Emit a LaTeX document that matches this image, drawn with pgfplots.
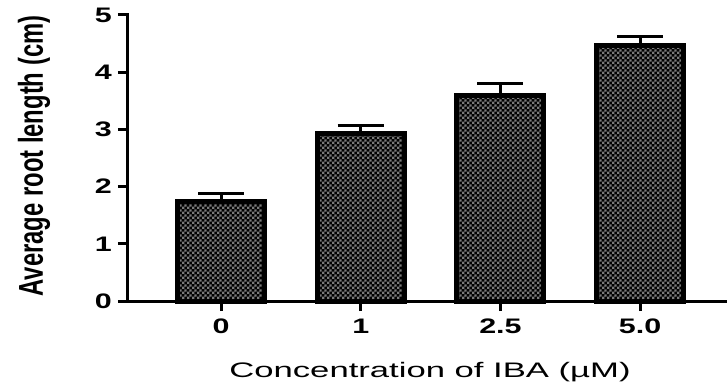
\documentclass[border=0pt]{standalone}
\usepackage{pgfplots}
\pgfplotsset{compat=1.18}
\usepackage{fontspec}
\setmainfont{Liberation Sans}
\usetikzlibrary{patterns}
\pgfdeclarepatternformonly{checker}{\pgfpointorigin}{\pgfpoint{4.8pt}{4.8pt}}{\pgfpoint{4.8pt}{4.8pt}}{%
  \pgfpathrectangle{\pgfpointorigin}{\pgfpoint{2.4pt}{2.4pt}}%
  \pgfpathrectangle{\pgfpoint{2.4pt}{2.4pt}}{\pgfpoint{2.4pt}{2.4pt}}%
  \pgfusepath{fill}}
\begin{document}
\begin{tikzpicture}
\begin{axis}[
  at={(0,0)}, anchor=south west,
  scale only axis,
  width=599pt, height=286pt,
  xmin=-0.666, xmax=3.622,
  ymin=0, ymax=5,
  axis x line=bottom, axis y line=left,
  axis line style={-, line width=3pt, line cap=rect},
  tick align=outside,
  major tick length=10pt,
  tick style={line width=3pt, black},
  xtick={0,1,2,3},
  xticklabels={\scalebox{1.45}[1]{0},\scalebox{1.45}[1]{1},\scalebox{1.45}[1]{2.5},\scalebox{1.45}[1]{5.0}},
  ytick={0,1,2,3,4,5},
  yticklabel={\scalebox{1.45}[1]{\pgfmathprintnumber{\tick}}},
  /pgf/number format/assume math mode=true,
  ticklabel style={font=\fontsize{21}{24}\selectfont\bfseries, inner sep=0pt},
  yticklabel style={anchor=east, xshift=-6pt},
  xticklabel style={anchor=base, yshift=-22pt},
  clip=false,
]
\addplot[ybar, bar width=87pt, draw=black, line width=5pt,
  pattern=checker, pattern color=black!52, preaction={fill=black},
  error bars/.cd, y dir=plus, y explicit,
  error mark=|,
  error bar style={line width=3pt, black},
  error mark options={line width=3pt, mark size=23pt, black}]
  coordinates {
  (0,1.74) +- (0,0.14)
  (1,2.93) +- (0,0.13)
  (2,3.59) +- (0,0.22)
  (3,4.46) +- (0,0.16)
  };
\end{axis}
\node[rotate=90, anchor=base, inner sep=0pt] at (-85pt,145pt)
  {\scalebox{1}[1.45]{\fontsize{23.8}{26}\selectfont\bfseries Average root length (cm)}};
\node[anchor=base, inner sep=0pt] at (302pt,-76pt)
  {\scalebox{1.65}[1]{\fontsize{21}{24}\selectfont Concentration of IBA (µM)}};
\pgfresetboundingbox
\path[use as bounding box] (-128pt,-84pt) rectangle (599pt,301pt);
\end{tikzpicture}
\end{document}
